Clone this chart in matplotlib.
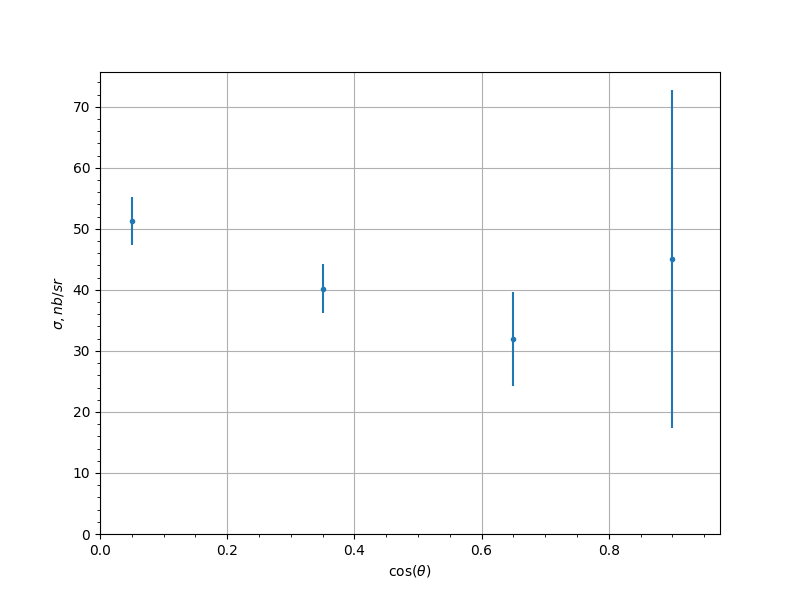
import matplotlib
matplotlib.use("Agg")
import matplotlib.pyplot as plt

# ---------------------------------
# DATA
# ---------------------------------

cos_theta = [0.05, 0.35, 0.65, 0.9]
sigma = [51.3, 40.2, 32.0, 45.05]
sigma_err = [3.9, 4.0, 7.7, 27.75]

# ---------------------------------
# PLOT
# ---------------------------------

fig, ax = plt.subplots(figsize=(8, 6), dpi=100)
ax.errorbar(cos_theta, sigma, yerr=sigma_err, fmt="o", markersize=3)
ax.set_xlim(0, 0.975)
ax.set_ylim(0, 75.7)
ax.set_xlabel(r"$\cos(\theta)$")
ax.set_ylabel(r"$\sigma, nb/sr$")
ax.minorticks_on()
ax.grid(which="major")
fig.savefig("out.png", dpi=100)
